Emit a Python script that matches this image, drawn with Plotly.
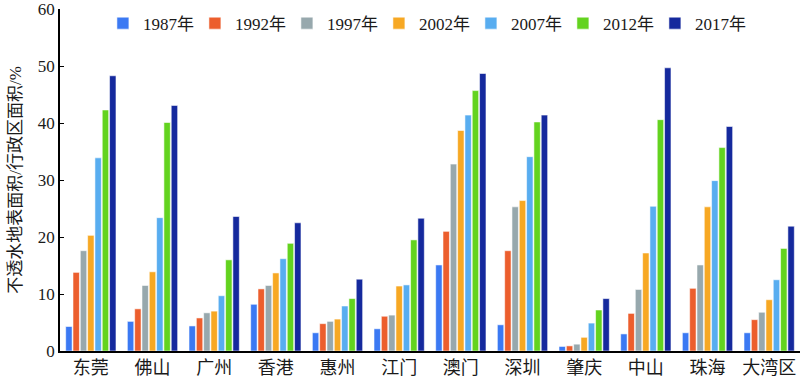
import plotly.graph_objects as go

categories = ["东莞", "佛山", "广州", "香港", "惠州", "江门", "澳门", "深圳", "肇庆", "中山", "珠海", "大湾区"]
years = ["1987年", "1992年", "1997年", "2002年", "2007年", "2012年", "2017年"]

v1987 = [4.3, 5.2, 4.4, 8.2, 3.2, 3.9, 15.1, 4.6, 0.8, 3.0, 3.2, 3.2]
v1992 = [13.8, 7.4, 5.8, 10.9, 4.8, 6.1, 21.0, 17.6, 0.9, 6.6, 11.0, 5.5]
v1997 = [17.6, 11.5, 6.7, 11.5, 5.2, 6.3, 32.8, 25.3, 1.2, 10.8, 15.1, 6.8]
v2002 = [20.3, 13.9, 7.0, 13.7, 5.6, 11.4, 38.7, 26.4, 2.4, 17.2, 25.3, 9.0]
v2007 = [33.9, 23.4, 9.7, 16.2, 7.9, 11.6, 41.4, 34.1, 4.9, 25.4, 29.9, 12.5]
v2012 = [42.3, 40.1, 16.0, 18.9, 9.2, 19.5, 45.7, 40.2, 7.2, 40.6, 35.7, 18.0]
v2017 = [48.3, 43.1, 23.6, 22.5, 12.6, 23.3, 48.7, 41.4, 9.2, 49.7, 39.4, 21.9]

series = [v1987, v1992, v1997, v2002, v2007, v2012, v2017]
colors = ["#3b79f3", "#ec5e2d", "#97a8ad", "#f7a823", "#58adf0", "#63d31f", "#15299d"]

font_family = "Liberation Serif, Noto Sans CJK SC, serif"

fig = go.Figure()
for name, vals, col in zip(years, series, colors):
    fig.add_trace(go.Bar(
        x=categories, y=vals, name=name,
        marker=dict(color=col, line=dict(color="rgba(255,255,255,0.7)", width=0.8)),
    ))

fig.update_layout(
    width=800, height=379,
    margin=dict(l=60, r=0, t=9, b=28),
    plot_bgcolor="white", paper_bgcolor="white",
    barmode="group", bargap=0.17, bargroupgap=0.12,
    font=dict(family=font_family, color="#1a1a1a", size=15),
    legend=dict(
        orientation="h", x=0.058, xanchor="left", y=1.01, yanchor="top",
        font=dict(size=17, family=font_family),
        entrywidth=47, entrywidthmode="pixels",
        bgcolor="rgba(0,0,0,0)", itemwidth=30,
    ),
    showlegend=True,
)
fig.update_xaxes(
    showline=True, linecolor="black", linewidth=1.5,
    ticks="", tickfont=dict(size=18, family=font_family),
    showgrid=False,
)
fig.update_yaxes(
    range=[0, 60.02], tickvals=[0, 10, 20, 30, 40, 50, 60],
    showline=True, linecolor="black", linewidth=1.5,
    ticks="inside", ticklen=4, tickcolor="black",
    tickfont=dict(size=17, family=font_family),
    ticklabeloverflow="allow",
    showgrid=False, zeroline=False, automargin=False,
    title=dict(text="不透水地表面积/行政区面积/%", font=dict(size=17, family=font_family), standoff=12),
)

fig.write_html("out.html", config={"displayModeBar": False},
               post_script="document.body.style.margin='0';document.body.style.overflow='hidden';")
